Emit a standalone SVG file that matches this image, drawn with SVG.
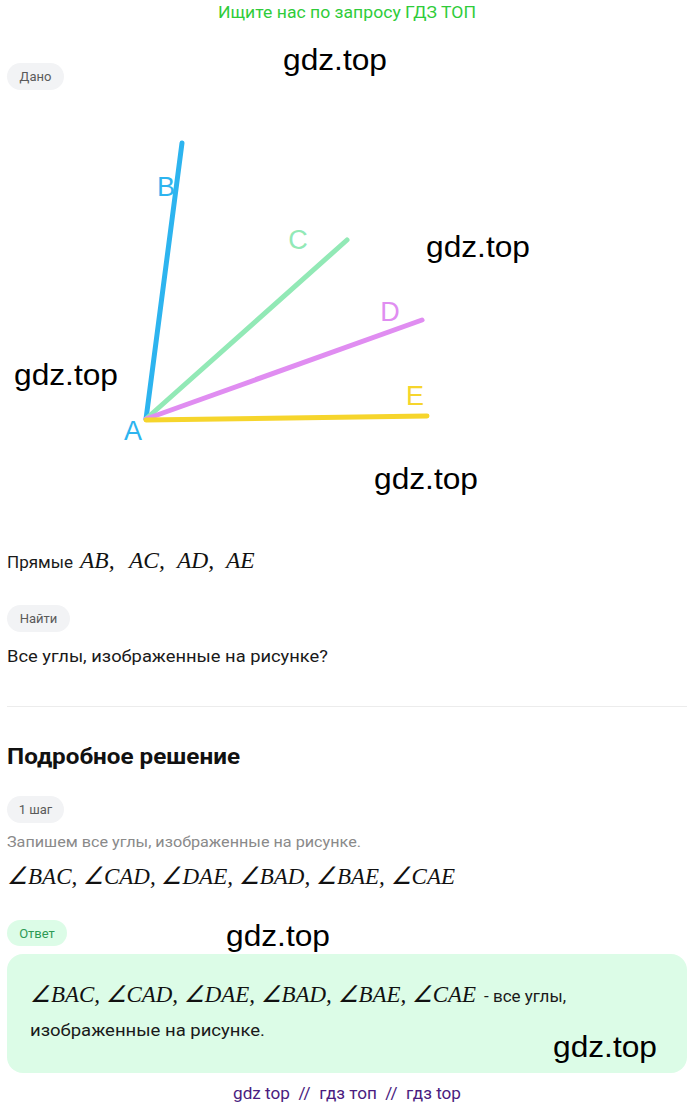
<svg xmlns="http://www.w3.org/2000/svg" width="694" height="1108" viewBox="0 0 694 1108">
<style>
.wm{font-family:"Liberation Sans",Arial,sans-serif;font-size:30px;fill:#000}
.pill{fill:#f2f3f5}
.pt{font-family:Roboto,"Liberation Sans",sans-serif;font-size:13px;fill:#5a5a5a}
.body{font-family:Roboto,"Liberation Sans",sans-serif;font-size:17px;fill:#1a1a1a}
.math{font-family:"Liberation Serif","Times New Roman",serif;font-style:italic;fill:#111}
.lbl{font-family:"Liberation Sans",Arial,sans-serif;font-size:27px}
.ray{stroke-width:5;stroke-linecap:round;fill:none}
</style>
<rect width="694" height="1108" fill="#fff"/>
<text x="347" y="18" text-anchor="middle" font-family="Roboto,'Liberation Sans',sans-serif" font-size="17" fill="#2fcc3a" textLength="258" lengthAdjust="spacingAndGlyphs">Ищите нас по запросу ГДЗ ТОП</text>

<g id="given">
<rect class="pill" x="7" y="63" width="57" height="27" rx="13.5"/>
<text class="pt" x="35.5" y="81" text-anchor="middle">Дано</text>
</g>

<g id="figure">
<g id="connectors">
<line class="ray" x1="146" y1="419" x2="182" y2="143" stroke="#2db4ef"/>
<line class="ray" x1="146" y1="419" x2="347" y2="240" stroke="#92e9b6"/>
<line class="ray" x1="146" y1="419" x2="422" y2="320" stroke="#e08df1"/>
<line class="ray" x1="146" y1="420" x2="427" y2="416" stroke="#f6d52c"/>
</g>
<g id="labels">
<text class="lbl" x="166" y="196" text-anchor="middle" fill="#2db4ef">B</text>
<text class="lbl" x="298" y="249" text-anchor="middle" fill="#92e9b6">C</text>
<text class="lbl" x="390" y="321" text-anchor="middle" fill="#e08df1">D</text>
<text class="lbl" x="415" y="405" text-anchor="middle" fill="#f6d52c">E</text>
<text class="lbl" x="133" y="440" text-anchor="middle" fill="#2db4ef">A</text>
</g>
</g>

<text class="body" x="7" y="568" textLength="66" lengthAdjust="spacingAndGlyphs">Прямые</text>
<text class="math" y="568" font-size="23.5"><tspan x="80">AB,</tspan><tspan x="129">AC,</tspan><tspan x="177">AD,</tspan><tspan x="226">AE</tspan></text>

<g id="find">
<rect class="pill" x="7" y="605" width="63" height="27" rx="13.5"/>
<text class="pt" x="38.5" y="623" text-anchor="middle">Найти</text>
</g>
<text class="body" x="7" y="662" textLength="321" lengthAdjust="spacingAndGlyphs">Все углы, изображенные на рисунке?</text>

<line x1="7" y1="706.5" x2="687" y2="706.5" stroke="#ececec" stroke-width="1"/>

<text x="7" y="764" font-family="Roboto,'Liberation Sans',sans-serif" font-size="22" font-weight="bold" fill="#111" textLength="233" lengthAdjust="spacingAndGlyphs">Подробное решение</text>

<g id="step">
<rect class="pill" x="7" y="796" width="57" height="27" rx="13.5"/>
<text class="pt" x="35.5" y="814" text-anchor="middle">1 шаг</text>
</g>
<text x="7" y="847" font-family="Roboto,'Liberation Sans',sans-serif" font-size="15" fill="#8a8a8a" textLength="354" lengthAdjust="spacingAndGlyphs">Запишем все углы, изображенные на рисунке.</text>
<text class="math" x="7" y="884" font-size="24" textLength="448" lengthAdjust="spacingAndGlyphs">∠BAC, ∠CAD, ∠DAE, ∠BAD, ∠BAE, ∠CAE</text>

<g id="answer">
<rect x="7" y="920" width="60" height="26" rx="13" fill="#dcfce7"/>
<text x="37" y="938" text-anchor="middle" font-family="Roboto,'Liberation Sans',sans-serif" font-size="13" fill="#2e9a55">Ответ</text>
<rect x="7" y="954" width="680" height="119" rx="16" fill="#dcfce7"/>
<text class="math" x="30" y="1002" font-size="23" textLength="446" lengthAdjust="spacingAndGlyphs">∠BAC, ∠CAD, ∠DAE, ∠BAD, ∠BAE, ∠CAE</text>
<text x="484" y="1002" font-family="Roboto,'Liberation Sans',sans-serif" font-size="17" fill="#1a1a1a">- все углы,</text>
<text x="30" y="1036" font-family="Roboto,'Liberation Sans',sans-serif" font-size="16" fill="#1a1a1a" textLength="235" lengthAdjust="spacingAndGlyphs">изображенные на рисунке.</text>
</g>

<g id="watermarks">
<text class="wm" x="283" y="70" textLength="104" lengthAdjust="spacingAndGlyphs">gdz.top</text>
<text class="wm" x="426" y="257" textLength="104" lengthAdjust="spacingAndGlyphs">gdz.top</text>
<text class="wm" x="14" y="385" textLength="104" lengthAdjust="spacingAndGlyphs">gdz.top</text>
<text class="wm" x="374" y="489" textLength="104" lengthAdjust="spacingAndGlyphs">gdz.top</text>
<text class="wm" x="226" y="946" textLength="104" lengthAdjust="spacingAndGlyphs">gdz.top</text>
<text class="wm" x="553" y="1057" textLength="104" lengthAdjust="spacingAndGlyphs">gdz.top</text>
</g>

<text x="233" y="1099" font-family="Roboto,'Liberation Sans',sans-serif" font-size="17" fill="#4a1c80" textLength="228" lengthAdjust="spacingAndGlyphs" xml:space="preserve">gdz top  //  гдз топ  //  гдз top</text>
</svg>
